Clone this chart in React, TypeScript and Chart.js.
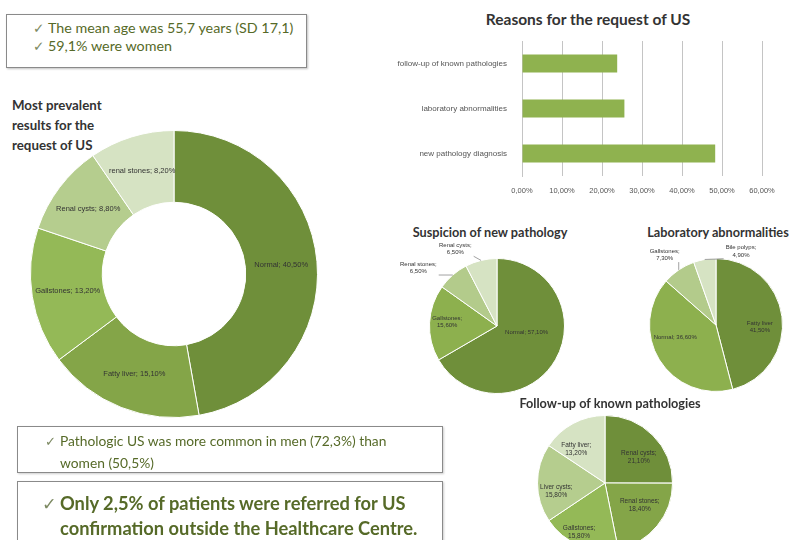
import React, { useEffect, useRef } from 'react';
import { Chart, registerables } from 'chart.js';

Chart.register(...registerables);

// ---------- data ----------
const overallLabels = ['Normal', 'Fatty liver', 'Gallstones', 'Renal cysts', 'renal stones'];
const overallValues = [40.5, 15.1, 13.2, 8.8, 8.2];

const reasonLabels = ['follow-up of known pathologies', 'laboratory abnormalities', 'new pathology diagnosis'];
const reasonValues = [23.8, 25.6, 48.3];
const reasonAxisMax = 60;
const reasonAxisStep = 10;

const newPathLabels = ['Normal', 'Gallstones', 'Renal stones', 'Renal cysts'];
const newPathValues = [57.1, 15.6, 6.5, 6.5];

const labLabels = ['Fatty liver', 'Normal', 'Gallstones', 'Bile polyps'];
const labValues = [41.5, 36.6, 7.3, 4.9];

const followLabels = ['Renal cysts', 'Renal stones', 'Gallstones', 'Liver cysts', 'Fatty liver'];
const followValues = [21.1, 18.4, 15.8, 15.8, 13.2];

// ---------- styles ----------
const TEXT_FONT = 'Lato, "Open Sans", sans-serif';
const LABEL_FONT = '"Liberation Sans", Arial, sans-serif';
const OLIVE = '#566a28';
const C1 = '#6f8f3a';
const C2 = '#84a548';
const C3 = '#94b957';
const C4 = '#b5cd8e';
const C5 = '#d6e3c3';

const fmt = (v: number) => v.toFixed(2).replace('.', ',') + '%';

type Item = { rf?: number; da?: number; two?: boolean; semi?: boolean; leader?: boolean };

const sliceLabelPlugin = {
  id: 'sliceLabels',
  afterDatasetsDraw(chart: any, _args: any, opts: any) {
    const meta = chart.getDatasetMeta(0);
    const ds = chart.data.datasets[0];
    const ctx = chart.ctx as CanvasRenderingContext2D;
    const items: Item[] = opts.items || [];
    const size = opts.size || 7;
    const lh = size * 1.25;
    ctx.save();
    ctx.font = `${size}px ${LABEL_FONT}`;
    ctx.textAlign = 'center';
    ctx.textBaseline = 'middle';
    meta.data.forEach((arc: any, i: number) => {
      const it = items[i] || {};
      const mid = (arc.startAngle + arc.endAngle) / 2;
      const a = mid + ((it.da || 0) * Math.PI) / 180;
      const r = arc.outerRadius * (it.rf ?? 0.5);
      const x = arc.x + r * Math.cos(a);
      const y = arc.y + r * Math.sin(a);
      const name = chart.data.labels[i];
      const val = fmt(ds.data[i]);
      const lines = it.two ? [name + (it.semi === false ? '' : ';'), val] : [name + '; ' + val];
      if (it.leader) {
        const ex = arc.x + arc.outerRadius * Math.cos(mid);
        const ey = arc.y + arc.outerRadius * Math.sin(mid);
        const halfW = Math.max(...lines.map((t) => ctx.measureText(t).width)) / 2 + 2;
        const halfH = (lines.length * lh) / 2;
        const clamp = (v: number, m: number) => Math.max(-m, Math.min(m, v));
        const sx = x + clamp(ex - x, halfW);
        const sy = y + clamp(ey - y, halfH);
        ctx.strokeStyle = '#8a8a8a';
        ctx.lineWidth = 0.8;
        ctx.beginPath();
        ctx.moveTo(sx, sy);
        ctx.lineTo(ex, ey);
        ctx.stroke();
      }
      ctx.fillStyle = opts.color || '#333333';
      lines.forEach((t, k) => ctx.fillText(t, x, y + (k - (lines.length - 1) / 2) * lh));
    });
    ctx.restore();
  },
};

function pieConfig(
  type: 'pie' | 'doughnut',
  labels: string[],
  values: number[],
  colors: string[],
  padding: any,
  size: number,
  items: Item[]
): any {
  return {
    type,
    data: {
      labels,
      datasets: [{ data: values, backgroundColor: colors, borderColor: '#ffffff', borderWidth: 1 }],
    },
    options: {
      responsive: false,
      animation: false,
      cutout: type === 'doughnut' ? '50%' : 0,
      layout: { padding },
      plugins: {
        legend: { display: false },
        tooltip: { enabled: false },
        sliceLabels: { size, items },
      },
    },
    plugins: [sliceLabelPlugin],
  };
}

function barConfig(): any {
  return {
    type: 'bar',
    data: {
      labels: reasonLabels,
      datasets: [
        {
          data: reasonValues,
          backgroundColor: '#8fb24f',
          barPercentage: 0.4,
          categoryPercentage: 1,
        },
      ],
    },
    options: {
      indexAxis: 'y',
      responsive: false,
      animation: false,
      layout: { padding: { top: 41, right: 27, left: 0, bottom: 0 } },
      plugins: { legend: { display: false }, tooltip: { enabled: false } },
      scales: {
        x: {
          min: 0,
          max: reasonAxisMax,
          ticks: {
            stepSize: reasonAxisStep,
            callback: (v: any) => fmt(Number(v)),
            font: { size: 7.5, family: LABEL_FONT },
            color: '#555',
            padding: 10,
            maxRotation: 0,
          },
          grid: { color: '#c4c4c4', drawTicks: false },
          border: { display: false },
          afterFit: (s: any) => {
            s.height = 24;
          },
        },
        y: {
          grid: { display: false },
          border: { display: true, color: '#c4c4c4' },
          ticks: { font: { size: 8, family: LABEL_FONT }, color: '#555', padding: 7 },
          afterFit: (s: any) => {
            s.width = 136;
          },
        },
      },
    },
  };
}

function ChartBox(props: { left: number; top: number; width: number; height: number; make: () => any }) {
  const ref = useRef<HTMLCanvasElement>(null);
  useEffect(() => {
    const chart = new Chart(ref.current as HTMLCanvasElement, props.make());
    return () => chart.destroy();
  }, []);
  return (
    <canvas
      ref={ref}
      width={props.width}
      height={props.height}
      style={{ position: 'absolute', left: props.left, top: props.top, width: props.width, height: props.height }}
    />
  );
}

const check = (w: number) => (
  <span style={{ display: 'inline-block', width: w, color: '#7d8a63', fontFamily: '"DejaVu Sans", sans-serif', fontWeight: 400, fontSize: '0.95em' }}>
    ✓
  </span>
);

function Title(props: { cx: number; cy: number; size: number; text: string }) {
  return (
    <div
      style={{
        position: 'absolute',
        left: props.cx - 150,
        width: 300,
        top: props.cy - props.size * 0.65,
        lineHeight: `${props.size * 1.3}px`,
        textAlign: 'center',
        fontFamily: TEXT_FONT,
        fontWeight: 700,
        fontSize: props.size,
        color: '#333',
        whiteSpace: 'nowrap',
      }}
    >
      {props.text}
    </div>
  );
}

export default function App() {
  return (
    <div
      style={{
        position: 'absolute',
        left: 0,
        top: 0,
        width: 789,
        height: 540,
        overflow: 'hidden',
        background: '#ffffff',
        fontFamily: TEXT_FONT,
      }}
    >
      {/* box 1 */}
      <div style={{ position: 'absolute', left: 6, top: 14, width: 299, height: 52, border: '1px solid #8a8a8a', boxShadow: '1px 1px 2px rgba(0,0,0,0.25)' }} />
      <div style={{ position: 'absolute', left: 33, top: 19, lineHeight: '18px', fontSize: 14.3, color: OLIVE, whiteSpace: 'nowrap' }}>
        <div>{check(15)}The mean age was 55,7 years (SD 17,1)</div>
        <div>{check(15)}59,1% were women</div>
      </div>

      {/* doughnut heading */}
      <div style={{ position: 'absolute', left: 12, top: 95, lineHeight: '20px', fontSize: 13.3, fontWeight: 700, color: '#333' }}>
        <div>Most prevalent</div>
        <div>results for the</div>
        <div>request of US</div>
      </div>

      <ChartBox
        left={20}
        top={120}
        width={310}
        height={310}
        make={() =>
          pieConfig('doughnut', overallLabels, overallValues, [C1, C2, C3, C4, C5], { left: 10, right: 12, top: 10, bottom: 12 }, 7.5, [
            { rf: 0.75 },
            { rf: 0.75 },
            { rf: 0.75 },
            { rf: 0.75 },
            { rf: 0.75 },
          ])
        }
      />

      {/* bar chart */}
      <Title cx={588} cy={19} size={15.5} text="Reasons for the request of US" />
      <ChartBox left={386} top={0} width={403} height={200} make={barConfig} />

      {/* suspicion of new pathology */}
      <Title cx={490} cy={232} size={12.7} text="Suspicion of new pathology" />
      <ChartBox
        left={390}
        top={240}
        width={190}
        height={160}
        make={() =>
          pieConfig('pie', newPathLabels, newPathValues, [C1, '#8db04e', '#b3cb8b', C5], { left: 39, right: 15, top: 18, bottom: 6 }, 6, [
            { rf: 0.45, da: -17 },
            { rf: 0.74, da: 2, two: true },
            { rf: 1.45, da: -12.5, two: true, leader: true },
            { rf: 1.3, da: -14.7, two: true, leader: true },
          ])
        }
      />

      {/* laboratory abnormalities */}
      <Title cx={718} cy={232} size={12.7} text="Laboratory abnormalities" />
      <ChartBox
        left={640}
        top={240}
        width={149}
        height={160}
        make={() =>
          pieConfig('pie', labLabels, labValues, [C1, '#8db04e', '#b3cb8b', C5], { left: 9, right: 6, top: 18, bottom: 8 }, 6, [
            { rf: 0.66, da: 10, two: true, semi: false },
            { rf: 0.64, da: 15 },
            { rf: 1.31, da: -2, two: true, leader: true },
            { rf: 1.17, da: 28.5, two: true, leader: true },
          ])
        }
      />

      {/* follow-up */}
      <Title cx={610} cy={403} size={12.7} text="Follow-up of known pathologies" />
      <ChartBox
        left={520}
        top={410}
        width={170}
        height={150}
        make={() =>
          pieConfig('pie', followLabels, followValues, [C1, C2, C3, C4, C5], { left: 17, right: 17, top: 5, bottom: 9 }, 6.5, [
            { rf: 0.63, da: 7.6, two: true },
            { rf: 0.61, da: -7, two: true },
            { rf: 0.82, da: 5.5, two: true },
            { rf: 0.73, da: -9, two: true },
            { rf: 0.66, da: -12, two: true },
          ])
        }
      />

      {/* box 3 */}
      <div style={{ position: 'absolute', left: 17, top: 426, width: 424, height: 45, border: '1px solid #8a8a8a', boxShadow: '1px 1px 2px rgba(0,0,0,0.2)' }} />
      <div style={{ position: 'absolute', left: 45, top: 429.5, lineHeight: '21px', fontSize: 13.8, color: OLIVE, whiteSpace: 'nowrap' }}>
        <div>{check(15)}Pathologic US was more common in men (72,3%) than</div>
        <div style={{ paddingLeft: 15 }}>women (50,5%)</div>
      </div>

      {/* box 4 */}
      <div style={{ position: 'absolute', left: 17, top: 481, width: 424, height: 80, border: '1px solid #8a8a8a', boxShadow: '1px 1px 2px rgba(0,0,0,0.2)' }} />
      <div style={{ position: 'absolute', left: 42, top: 491, lineHeight: '24px', fontSize: 18.3, fontWeight: 700, color: OLIVE, whiteSpace: 'nowrap' }}>
        <div>{check(18)}Only 2,5% of patients were referred for US</div>
        <div style={{ paddingLeft: 18 }}>confirmation outside the Healthcare Centre.</div>
      </div>
    </div>
  );
}
